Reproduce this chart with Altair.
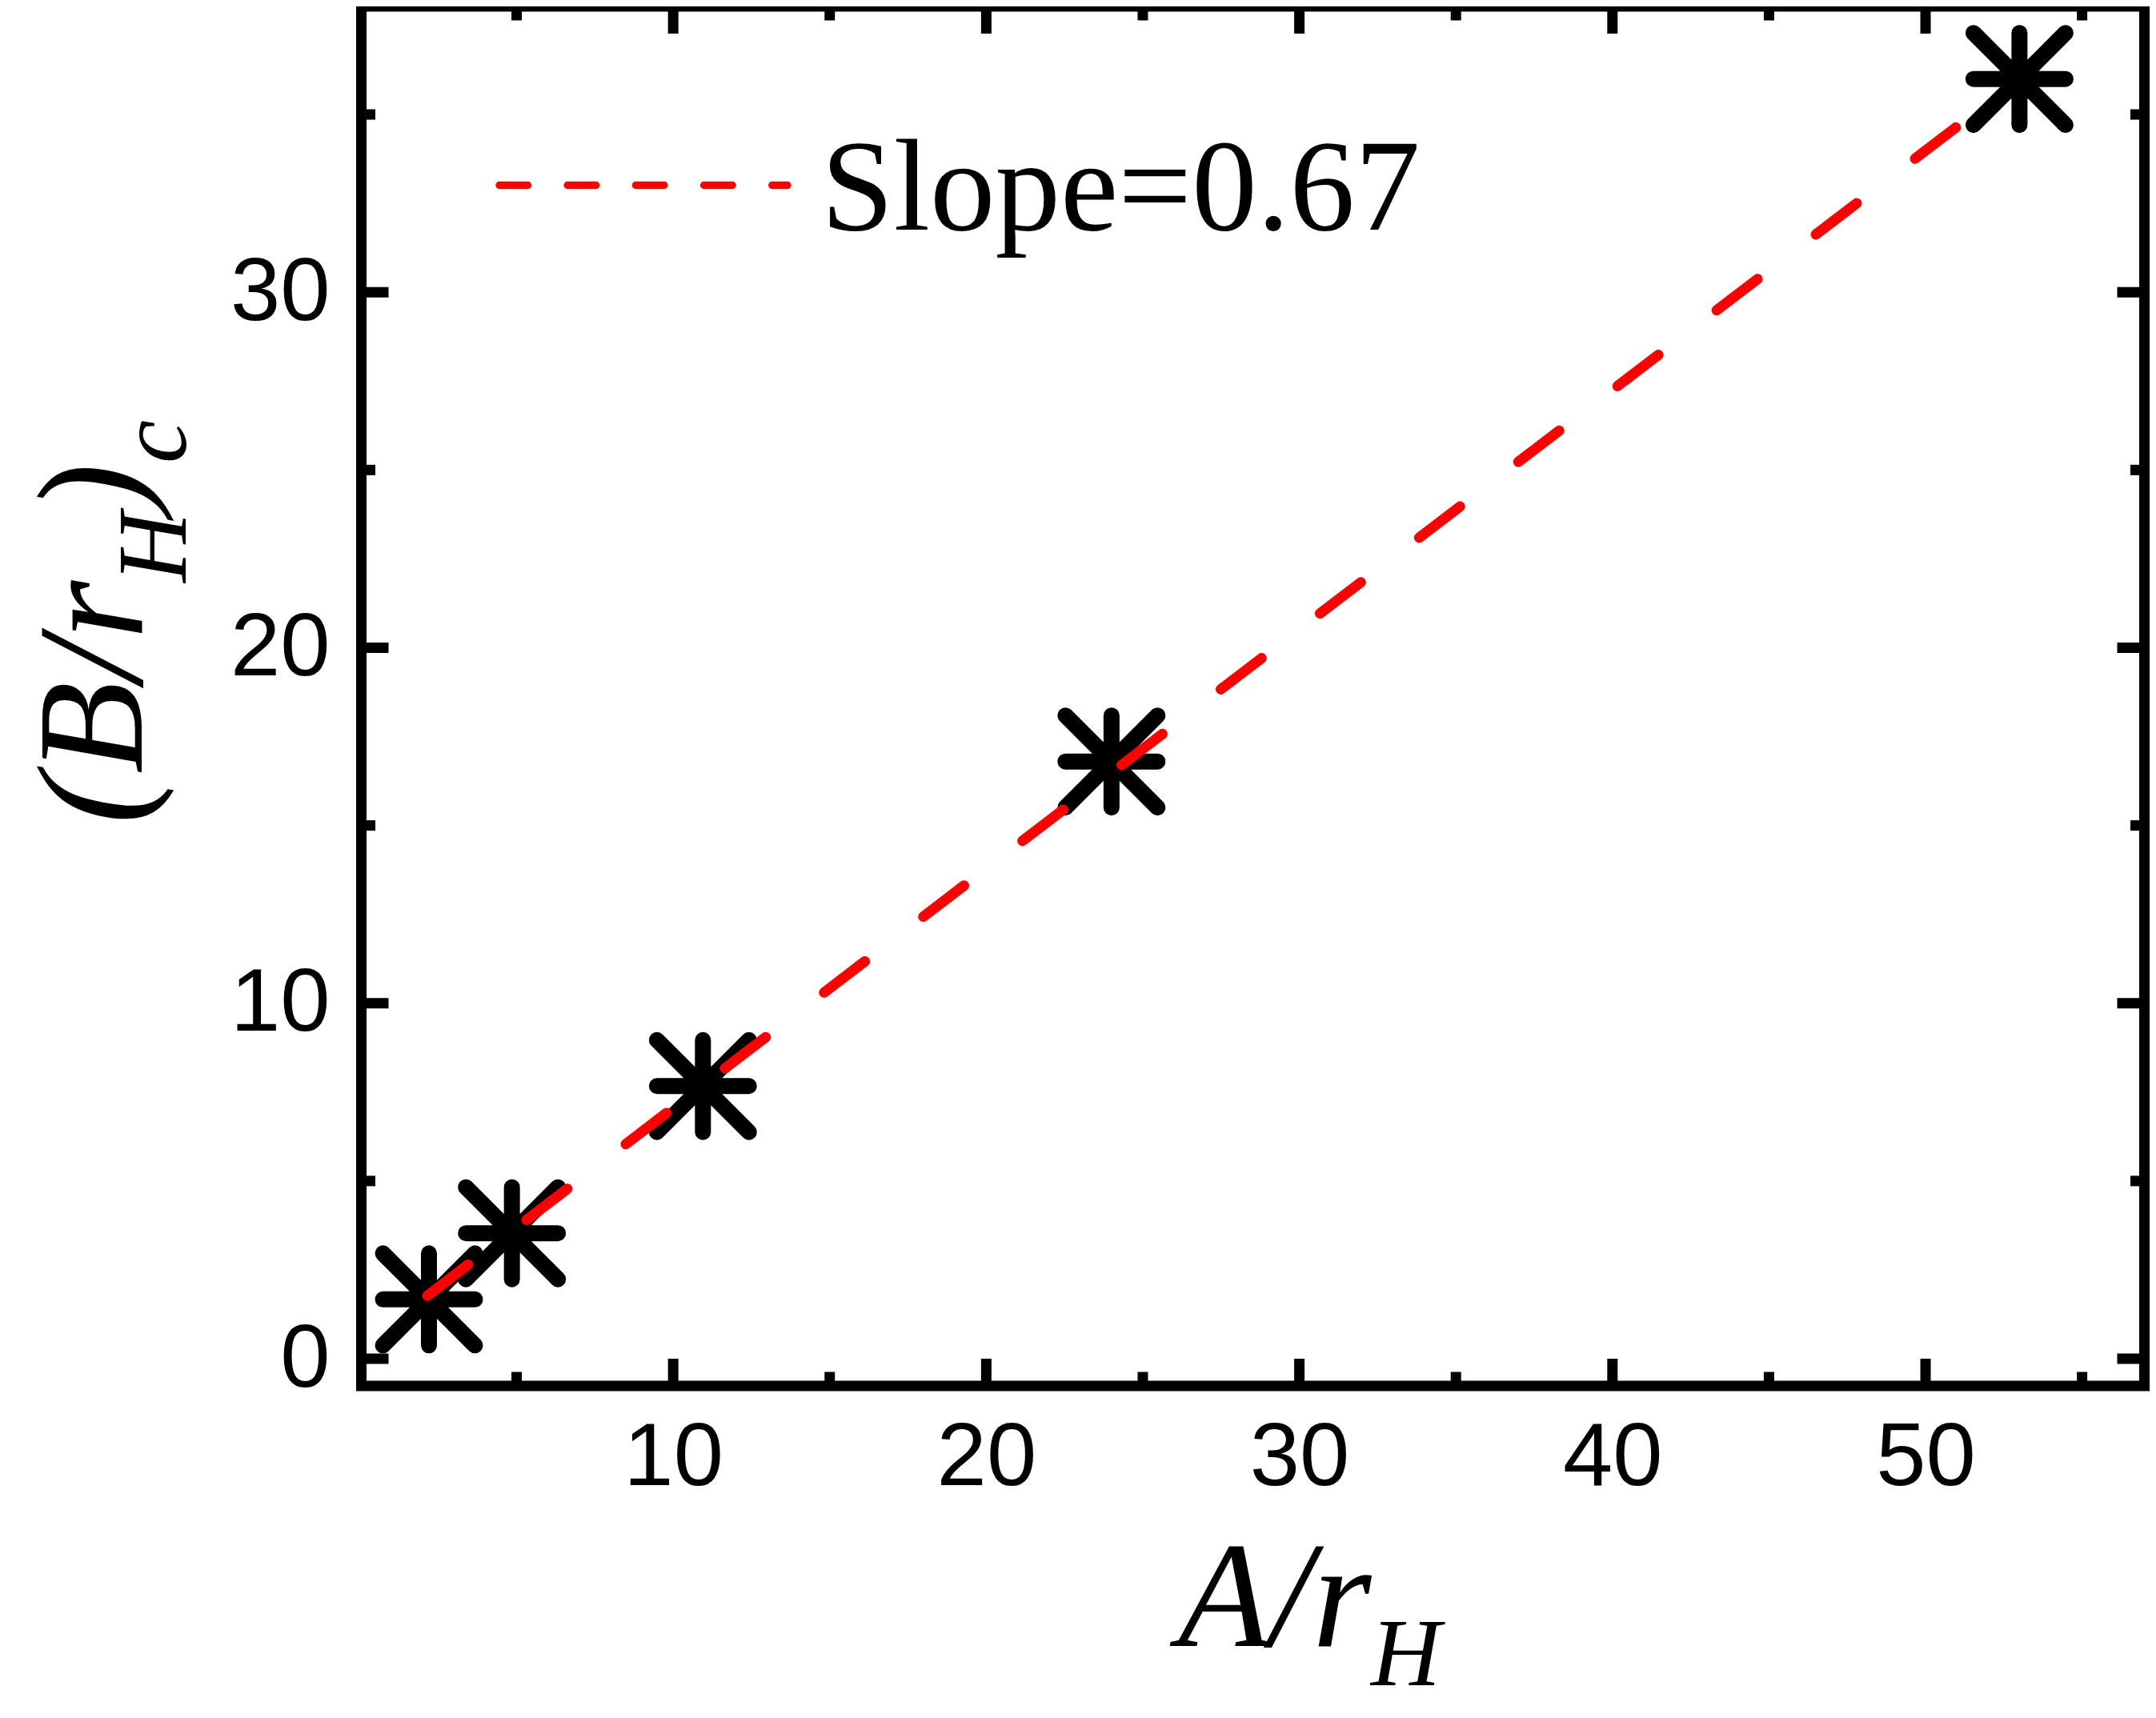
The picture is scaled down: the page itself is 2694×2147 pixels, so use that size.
import altair as alt
import pandas as pd

# ---- data ----
pts_x = [2.2, 4.85, 10.95, 24.0, 53.0]
pts_y = [1.67, 3.53, 7.67, 16.8, 36.0]
fit_x = [2.15, 52.15]
fit_y = [1.77, 35.43]
x_major = [10, 20, 30, 40, 50]
x_minor = [5, 15, 25, 35, 45, 55]
y_major = [0, 10, 20, 30]
y_minor = [5, 15, 25, 35]
legend_label = "Slope=0.67"

W, H = 2228, 1724
MAJ, MIN = 34, 17.5

xs = alt.Scale(domain=[0.04, 56.99], nice=False, zero=False)
ys = alt.Scale(domain=[-0.765, 38.04], nice=False, zero=False)

xaxis = alt.Axis(values=x_major, title=None, ticks=False, tickSize=0, domain=False, grid=False,
                 labelFont="Liberation Sans", labelFontSize=112, labelColor="black",
                 labelPadding=35, labelFlush=False, labelOverlap=False, labelBound=False)
yaxis = alt.Axis(values=y_major, title=None, ticks=False, tickSize=0, domain=False, grid=False,
                 labelFont="Liberation Sans", labelFontSize=112, labelColor="black",
                 labelPadding=39.5, labelFlush=False, labelOverlap=False, labelBound=False)

pts = pd.DataFrame({"x": pts_x, "y": pts_y})
fit = pd.DataFrame({"fx": fit_x, "fy": fit_y})
one = pd.DataFrame({"a": [0]})

ASTER = "M0,-1L0,1M-1,0L1,0M-1,-1L1,1M-1,1L1,-1"


def yticks(vals, length):
    df = pd.DataFrame({"v": vals})
    base = alt.Chart(df).mark_rule(color="black", strokeWidth=13, strokeCap="butt")
    left = base.encode(y=alt.Y("v:Q", scale=ys, axis=yaxis), x=alt.value(0), x2=alt.value(length))
    right = base.encode(y=alt.Y("v:Q", scale=ys, axis=yaxis), x=alt.value(W), x2=alt.value(W - length))
    return [left, right]


def xticks(vals, length):
    df = pd.DataFrame({"v": vals})
    base = alt.Chart(df).mark_rule(color="black", strokeWidth=13, strokeCap="butt")
    bottom = base.encode(x=alt.X("v:Q", scale=xs, axis=xaxis), y=alt.value(H), y2=alt.value(H - length))
    top = base.encode(x=alt.X("v:Q", scale=xs, axis=xaxis), y=alt.value(0), y2=alt.value(length))
    return [bottom, top]


def txt(s, x, y, size, font="Liberation Serif", style="italic", angle=0):
    return alt.Chart(one).mark_text(
        text=s, font=font, fontSize=size, fontStyle=style, align="left",
        baseline="alphabetic", angle=angle, color="black"
    ).encode(x=alt.value(x), y=alt.value(y))


points = alt.Chart(pts).mark_point(
    shape=ASTER, filled=False, stroke="black", strokeWidth=20, strokeCap="round",
    size=13225, opacity=1
).encode(x=alt.X("x:Q", scale=xs, axis=xaxis), y=alt.Y("y:Q", scale=ys, axis=yaxis))

line = alt.Chart(fit).mark_line(
    color="#ff0000", strokeWidth=13, strokeDash=[64, 92], strokeCap="round"
).encode(x=alt.X("fx:Q", scale=xs, axis=xaxis), y=alt.Y("fy:Q", scale=ys, axis=yaxis))

leg_line = alt.Chart(one).mark_rule(
    color="#ff0000", strokeWidth=9.5, strokeDash=[35.5, 49.7], strokeCap="round"
).encode(x=alt.value(172.5), x2=alt.value(532.5), y=alt.value(223.5))
leg_text = txt(legend_label, 574.5, 279, 163, style="normal")

titles = [
    txt("A/r", 1020.5, 2049, 189),
    txt("H", 1261.5, 2098, 121),
    txt("(B/r", -274.5, 1022, 189, angle=270),
    txt("H", -219.5, 720, 122, angle=270),
    txt(")", -274.5, 634, 189, angle=270),
    txt("c", -219.5, 571, 122, angle=270),
]

layers = (yticks(y_major, MAJ) + yticks(y_minor, MIN) + xticks(x_major, MAJ) + xticks(x_minor, MIN)
          + [points, line, leg_line, leg_text] + titles)

chart = alt.layer(*layers).properties(
    width=W, height=H,
    padding={"left": 443.5, "top": 0, "right": 6.5, "bottom": 402},
    autosize=alt.AutoSizeParams(type="none"),
).configure_view(stroke="black", strokeWidth=13)

chart.save("out.html", embed_options={"renderer": "svg", "actions": False})
